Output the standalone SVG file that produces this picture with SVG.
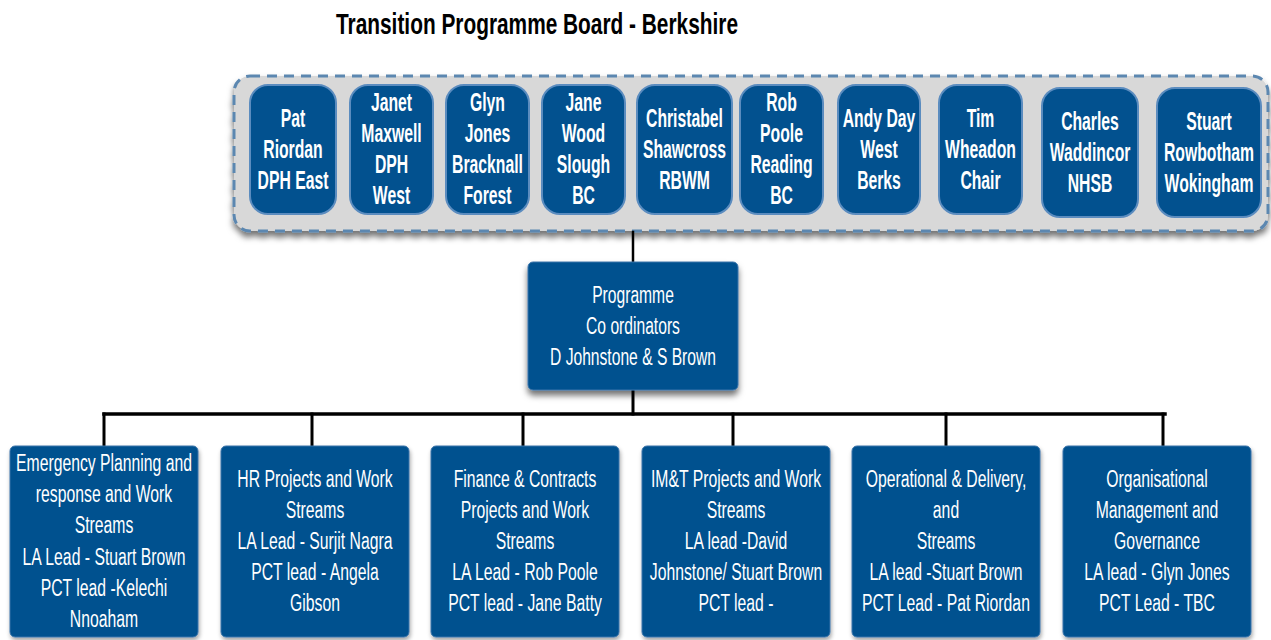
<svg xmlns="http://www.w3.org/2000/svg" width="1271" height="640" viewBox="0 0 1271 640">
  <style>
    .title { font-family: "Liberation Sans", Arial, sans-serif; font-weight: bold; font-size: 29px; fill: #000; }
    .member rect { fill: #02518f; stroke: #5b8cbf; stroke-width: 2; }
    .member text { font-family: "Liberation Sans", Arial, sans-serif; font-weight: bold; font-size: 25px; fill: #fff; text-anchor: middle; }
    .box rect { fill: #02518f; stroke: #3d75aa; stroke-width: 1; }
    .box text { font-family: "Liberation Sans", Arial, sans-serif; font-size: 23px; fill: #fff; text-anchor: middle; }
    .wire { stroke: #000; fill: none; stroke-linecap: square; }
  </style>
  <defs>
    <filter id="shadow" x="-10%" y="-10%" width="120%" height="130%">
      <feDropShadow dx="0" dy="5" stdDeviation="3" flood-color="#000" flood-opacity="0.55"/>
    </filter>
    <filter id="softShadow" x="-10%" y="-10%" width="120%" height="130%">
      <feDropShadow dx="1" dy="3" stdDeviation="2" flood-color="#000" flood-opacity="0.35"/>
    </filter>
  </defs>

  <rect width="1271" height="640" fill="#fff"/>

  <text class="title" x="336" y="34" textLength="402" lengthAdjust="spacingAndGlyphs">Transition Programme Board - Berkshire</text>

  <!-- board container -->
  <g id="board">
    <rect x="234" y="76" width="1034" height="155" rx="16" fill="#d8d8d8" stroke="#5b87b0" stroke-width="3" stroke-dasharray="10 7" filter="url(#shadow)"/>
  </g>

  <!-- board members -->
  <g id="member-pat" class="member">
    <rect x="250" y="85" width="86" height="129" rx="18"/>
    <text transform="translate(293 0) scale(0.63 1)"><tspan x="0" y="127">Pat</tspan><tspan x="0" y="158">Riordan</tspan><tspan x="0" y="189">DPH East</tspan></text>
  </g>
  <g id="member-janet" class="member">
    <rect x="350" y="85" width="83" height="129" rx="18"/>
    <text transform="translate(391.5 0) scale(0.63 1)"><tspan x="0" y="111">Janet</tspan><tspan x="0" y="142">Maxwell</tspan><tspan x="0" y="173">DPH</tspan><tspan x="0" y="204">West</tspan></text>
  </g>
  <g id="member-glyn" class="member">
    <rect x="446" y="85" width="83" height="129" rx="18"/>
    <text transform="translate(487.5 0) scale(0.63 1)"><tspan x="0" y="111">Glyn</tspan><tspan x="0" y="142">Jones</tspan><tspan x="0" y="173">Bracknall</tspan><tspan x="0" y="204">Forest</tspan></text>
  </g>
  <g id="member-jane" class="member">
    <rect x="542" y="85" width="83" height="129" rx="18"/>
    <text transform="translate(583.5 0) scale(0.63 1)"><tspan x="0" y="111">Jane</tspan><tspan x="0" y="142">Wood</tspan><tspan x="0" y="173">Slough</tspan><tspan x="0" y="204">BC</tspan></text>
  </g>
  <g id="member-christabel" class="member">
    <rect x="637" y="85" width="95" height="129" rx="18"/>
    <text transform="translate(684.5 0) scale(0.63 1)"><tspan x="0" y="127">Christabel</tspan><tspan x="0" y="158">Shawcross</tspan><tspan x="0" y="189">RBWM</tspan></text>
  </g>
  <g id="member-rob" class="member">
    <rect x="740" y="85" width="83" height="129" rx="18"/>
    <text transform="translate(781.5 0) scale(0.63 1)"><tspan x="0" y="111">Rob</tspan><tspan x="0" y="142">Poole</tspan><tspan x="0" y="173">Reading</tspan><tspan x="0" y="204">BC</tspan></text>
  </g>
  <g id="member-andy" class="member">
    <rect x="838" y="85" width="82" height="129" rx="18"/>
    <text transform="translate(879 0) scale(0.63 1)"><tspan x="0" y="127">Andy Day</tspan><tspan x="0" y="158">West</tspan><tspan x="0" y="189">Berks</tspan></text>
  </g>
  <g id="member-tim" class="member">
    <rect x="939" y="85" width="83" height="129" rx="18"/>
    <text transform="translate(980.5 0) scale(0.63 1)"><tspan x="0" y="127">Tim</tspan><tspan x="0" y="158">Wheadon</tspan><tspan x="0" y="189">Chair</tspan></text>
  </g>
  <g id="member-charles" class="member">
    <rect x="1042" y="88" width="96" height="129" rx="18"/>
    <text transform="translate(1090 0) scale(0.63 1)"><tspan x="0" y="130">Charles</tspan><tspan x="0" y="161">Waddincor</tspan><tspan x="0" y="192">NHSB</tspan></text>
  </g>
  <g id="member-stuart" class="member">
    <rect x="1157" y="88" width="104" height="129" rx="18"/>
    <text transform="translate(1209 0) scale(0.63 1)"><tspan x="0" y="130">Stuart</tspan><tspan x="0" y="161">Rowbotham</tspan><tspan x="0" y="192">Wokingham</tspan></text>
  </g>

  <!-- connectors -->
  <g id="connectors">
    <line class="wire" x1="633" y1="232" x2="633" y2="262" stroke-width="2.5"/>
    <line class="wire" x1="633" y1="390" x2="633" y2="414" stroke-width="3"/>
    <line class="wire" x1="104" y1="414" x2="1165" y2="414" stroke-width="3.5"/>
    <line class="wire" x1="104" y1="414" x2="104" y2="446" stroke-width="3"/>
    <line class="wire" x1="312" y1="414" x2="312" y2="446" stroke-width="3"/>
    <line class="wire" x1="523" y1="414" x2="523" y2="446" stroke-width="3"/>
    <line class="wire" x1="733" y1="414" x2="733" y2="446" stroke-width="3"/>
    <line class="wire" x1="946" y1="414" x2="946" y2="446" stroke-width="3"/>
    <line class="wire" x1="1163" y1="414" x2="1163" y2="446" stroke-width="3"/>
  </g>

  <!-- programme coordinators -->
  <g id="coordinators" class="box">
    <rect x="528" y="262" width="210" height="128" rx="5" filter="url(#shadow)"/>
    <text transform="translate(633 0) scale(0.68 1)"><tspan x="0" y="303">Programme</tspan><tspan x="0" y="334">Co ordinators</tspan><tspan x="0" y="365">D Johnstone &amp; S Brown</tspan></text>
  </g>

  <!-- work streams -->
  <g id="stream-emergency" class="box">
    <rect x="10" y="446" width="188" height="191" rx="5" filter="url(#softShadow)"/>
    <text transform="translate(104 0) scale(0.685 1)"><tspan x="0" y="471">Emergency Planning and</tspan><tspan x="0" y="502">response and Work</tspan><tspan x="0" y="533">Streams</tspan><tspan x="0" y="565">LA Lead - Stuart Brown</tspan><tspan x="0" y="596">PCT lead -Kelechi</tspan><tspan x="0" y="627">Nnoaham</tspan></text>
  </g>
  <g id="stream-hr" class="box">
    <rect x="221" y="446" width="188" height="191" rx="5" filter="url(#softShadow)"/>
    <text transform="translate(315 0) scale(0.685 1)"><tspan x="0" y="487">HR Projects and Work</tspan><tspan x="0" y="518">Streams</tspan><tspan x="0" y="549">LA Lead - Surjit Nagra</tspan><tspan x="0" y="580">PCT lead - Angela</tspan><tspan x="0" y="611">Gibson</tspan></text>
  </g>
  <g id="stream-finance" class="box">
    <rect x="431" y="446" width="188" height="191" rx="5" filter="url(#softShadow)"/>
    <text transform="translate(525 0) scale(0.685 1)"><tspan x="0" y="487">Finance &amp; Contracts</tspan><tspan x="0" y="518">Projects and Work</tspan><tspan x="0" y="549">Streams</tspan><tspan x="0" y="580">LA Lead - Rob Poole</tspan><tspan x="0" y="611">PCT lead - Jane Batty</tspan></text>
  </g>
  <g id="stream-imt" class="box">
    <rect x="642" y="446" width="188" height="191" rx="5" filter="url(#softShadow)"/>
    <text transform="translate(736 0) scale(0.685 1)"><tspan x="0" y="487">IM&amp;T Projects and Work</tspan><tspan x="0" y="518">Streams</tspan><tspan x="0" y="549">LA lead -David</tspan><tspan x="0" y="580">Johnstone/ Stuart Brown</tspan><tspan x="0" y="611">PCT lead -</tspan></text>
  </g>
  <g id="stream-operational" class="box">
    <rect x="852" y="446" width="188" height="191" rx="5" filter="url(#softShadow)"/>
    <text transform="translate(946 0) scale(0.685 1)"><tspan x="0" y="487">Operational &amp; Delivery,</tspan><tspan x="0" y="518">and</tspan><tspan x="0" y="549">Streams</tspan><tspan x="0" y="580">LA lead -Stuart Brown</tspan><tspan x="0" y="611">PCT Lead - Pat Riordan</tspan></text>
  </g>
  <g id="stream-organisational" class="box">
    <rect x="1063" y="446" width="188" height="191" rx="5" filter="url(#softShadow)"/>
    <text transform="translate(1157 0) scale(0.685 1)"><tspan x="0" y="487">Organisational</tspan><tspan x="0" y="518">Management and</tspan><tspan x="0" y="549">Governance</tspan><tspan x="0" y="580">LA lead - Glyn Jones</tspan><tspan x="0" y="611">PCT Lead - TBC</tspan></text>
  </g>
</svg>
